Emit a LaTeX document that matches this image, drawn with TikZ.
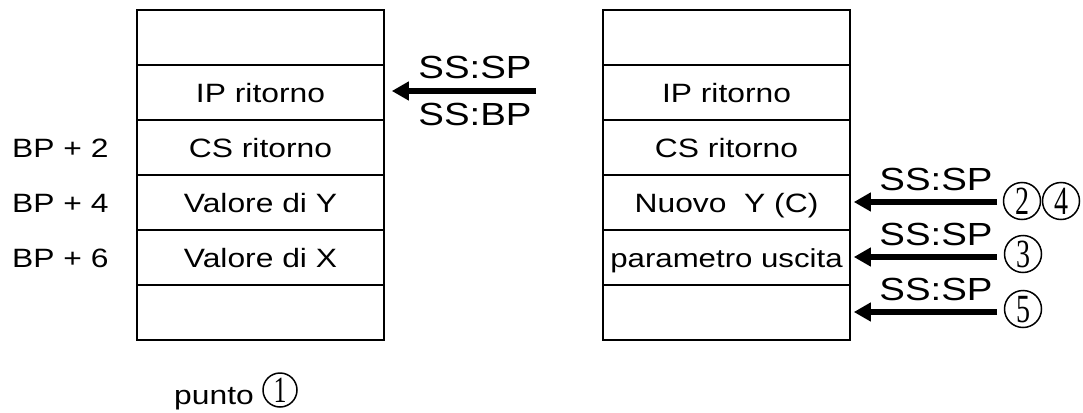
\documentclass[tikz,border=0pt]{standalone}
\usepackage{fontspec}
\setmainfont{Liberation Sans}
\newfontfamily\lab[FakeStretch=1.2]{Liberation Sans}
\newfontfamily\dig[FakeStretch=0.7]{Liberation Serif}
\usetikzlibrary{arrows.meta}
\begin{document}
\begin{tikzpicture}[x=1pt,y=-1pt,
  cell/.style={draw, line width=1.6pt, minimum width=247pt, minimum height=55pt, inner sep=0pt,
    font=\lab\fontsize{26.5}{26.5}\selectfont, text height=19pt, text depth=0pt},
  side/.style={anchor=west, inner sep=0pt, font=\lab\fontsize{26.5}{26.5}\selectfont, text height=19pt, text depth=0pt},
  reg/.style={inner sep=0pt, font=\lab\fontsize{32}{32}\selectfont, text height=23pt, text depth=0pt},
  num/.style={draw, circle, line width=1.5pt, minimum size=37pt, inner sep=0pt,
    font=\dig\fontsize{40}{40}\selectfont, text height=27pt, text depth=0pt},
  ptr/.style={line width=6pt, -{Triangle[length=17pt,width=18pt]}}]
\useasboundingbox (0,0) rectangle (1083,412);

% left stack
\node[cell] (l0) at (260.5,37.5) {};
\node[cell] (l1) at (260.5,92.5) {IP ritorno};
\node[cell] (l2) at (260.5,147.5) {CS ritorno};
\node[cell] (l3) at (260.5,202.5) {Valore di Y};
\node[cell] (l4) at (260.5,257.5) {Valore di X};
\node[cell] (l5) at (260.5,312.5) {};

\node[side] (bp2) at (12,147.5) {BP + 2};
\node[side] (bp4) at (12,202.5) {BP + 4};
\node[side] (bp6) at (12,257.5) {BP + 6};

% right stack
\node[cell] (r0) at (726.5,37.5) {};
\node[cell] (r1) at (726.5,92.5) {IP ritorno};
\node[cell] (r2) at (726.5,147.5) {CS ritorno};
\node[cell] (r3) at (726.5,202.5) {Nuovo\ \ Y (C)};
\node[cell] (r4) at (726.5,257.5) {\fontsize{26}{26}\selectfont parametro uscita};
\node[cell] (r5) at (726.5,312.5) {};

% top pointer
\coordinate (s0) at (536,91);
\draw[ptr] (s0) -- ([xshift=7pt]l1.east |- s0);
\node[reg] (sp0) at (475,67) {SS:SP};
\node[reg] (bp0) at (475,114) {SS:BP};

% right pointers
\coordinate (s1) at (997,202);
\coordinate (s2) at (997,257);
\coordinate (s3) at (997,312);
\draw[ptr] (s1) -- ([xshift=3pt]r3.east |- s1);
\draw[ptr] (s2) -- ([xshift=3pt]r4.east |- s2);
\draw[ptr] (s3) -- ([xshift=3pt]r5.east |- s3);
\node[reg] (sp1) at (936,179) {SS:SP};
\node[reg] (sp2) at (936,234) {SS:SP};
\node[reg] (sp3) at (936,289) {SS:SP};

\node[num] (n2) at (1022,201) {2};
\node[num] (n4) at (1061,201) {4};
\node[num] (n3) at (1023,254) {3};
\node[num] (n5) at (1023,309) {5};

% punto
\node[inner sep=0pt, anchor=base east, font=\lab\fontsize{26.5}{26.5}\selectfont] (pt) at (254,404) {punto};
\node[num, minimum size=34pt, font=\dig\fontsize{37}{37}\selectfont, text height=25pt] (n1) at (280,390) {1};
\end{tikzpicture}
\end{document}
